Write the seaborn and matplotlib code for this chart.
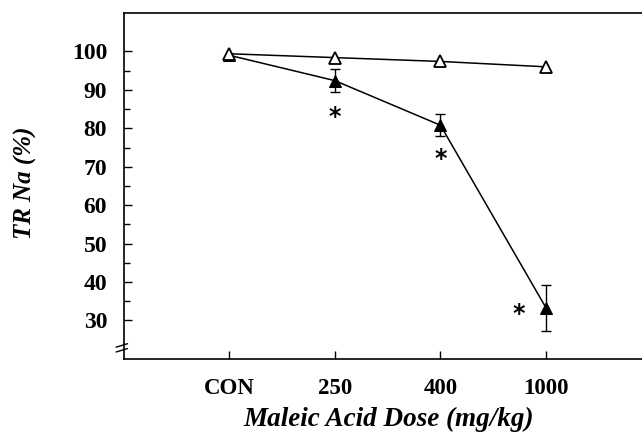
import numpy as np
import pandas as pd
import matplotlib
matplotlib.use("Agg")
import matplotlib.pyplot as plt
import seaborn as sns

# ========================
# DATA
# ========================
doses = ["CON", "250", "400", "1000"]
control_vals = [99.4, 98.4, 97.4, 96.0]
treated_vals = [99.0, 92.4, 80.8, 33.3]
treated_err = [0.0, 3.0, 2.9, 6.0]
star_x = [1.0, 2.0, 2.74]
star_y = [83.5, 72.6, 32.4]

pos = np.arange(len(doses))
df_open = pd.DataFrame({"x": pos, "y": control_vals})
df_fill = pd.DataFrame({"x": pos, "y": treated_vals})

# ========================
# STYLE
# ========================
sns.set_style("white")
plt.rcParams["font.family"] = ["Liberation Serif", "DejaVu Serif"]
plt.rcParams["text.color"] = "black"
plt.rcParams["axes.labelcolor"] = "black"

fig = plt.figure(figsize=(6.42, 4.34), dpi=100)
ax = fig.add_axes([0.193, 0.173, 0.807, 0.797])

# treated series (filled triangles) with error bars
ax.errorbar(pos[1:], treated_vals[1:], yerr=treated_err[1:], fmt="none",
            ecolor="black", elinewidth=1, capsize=3.5, capthick=1, zorder=2)
sns.lineplot(data=df_fill, x="x", y="y", ax=ax, color="black", lw=1.1,
             marker="^", markersize=8, markerfacecolor="black",
             markeredgecolor="black", zorder=3)

# control series (open triangles)
sns.lineplot(data=df_open, x="x", y="y", ax=ax, color="black", lw=1.1,
             marker="^", markersize=8, markerfacecolor="white",
             markeredgecolor="black", markeredgewidth=1.3, zorder=4)

# significance stars
for sx, sy in zip(star_x, star_y):
    ax.text(sx, sy, "*", ha="center", va="center_baseline", fontsize=17,
            fontweight="bold", color="black", family="DejaVu Sans")

# ========================
# AXES
# ========================
ax.set_xlim(-1, 3.91)
ax.set_ylim(20, 110)
ax.set_xticks(pos)
ax.set_xticklabels(doses)
ax.set_yticks(np.arange(30, 101, 10))
ax.set_yticks(np.arange(35, 100, 10), minor=True)
ax.tick_params(axis="both", which="major", direction="in", length=6,
               width=1, colors="black")
ax.tick_params(axis="y", which="minor", direction="in", length=4, width=1,
               left=True, colors="black")
ax.tick_params(axis="x", which="minor", bottom=False)
ax.tick_params(axis="y", which="major", left=True, pad=12, labelsize=17)
ax.tick_params(axis="x", which="major", bottom=True, pad=14, labelsize=16.5)
for lab in ax.get_xticklabels() + ax.get_yticklabels():
    lab.set_fontweight("bold")

for s in ["left", "bottom", "top"]:
    ax.spines[s].set_color("black")
    ax.spines[s].set_linewidth(1.2)
ax.spines["right"].set_visible(False)

# axis break marks on the y axis
for dy in (-0.007, 0.007):
    ax.plot([-0.015, 0.007], [0.032 + dy - 0.005, 0.032 + dy + 0.005],
            transform=ax.transAxes, color="black", lw=1, clip_on=False)

ax.set_xlabel("")
ax.set_ylabel("")
fig.text(0.605, 0.034, "Maleic Acid Dose (mg/kg)", ha="center", va="center",
         fontsize=19.5, fontweight="bold", fontstyle="italic")
fig.text(0.04, 0.58, "TR Na (%)", ha="center", va="center", rotation=90,
         fontsize=18, fontweight="bold", fontstyle="italic")

fig.savefig("out.png", dpi=100)
